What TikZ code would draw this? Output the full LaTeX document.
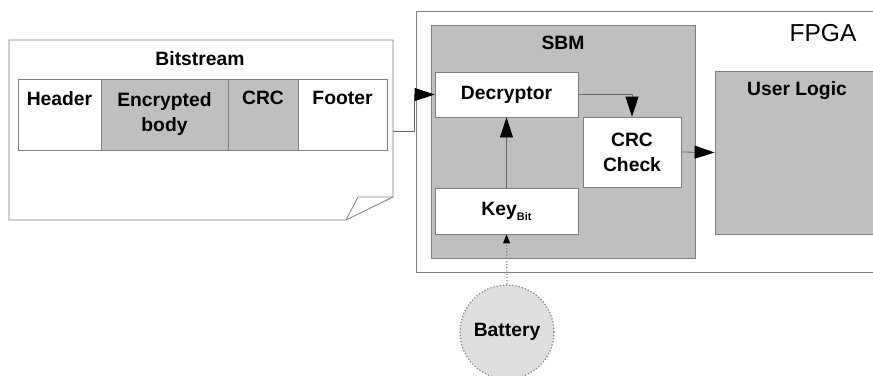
\documentclass[tikz,border=0pt]{standalone}
\usepackage{fontspec}
\setmainfont{Liberation Sans}
\usetikzlibrary{arrows.meta}
\definecolor{boxgray}{gray}{0.75}
\definecolor{linegray}{gray}{0.5}
\definecolor{battgray}{gray}{0.87}

\begin{document}
\begin{tikzpicture}[x=1pt,y=-1pt,line width=0.8pt,
    every node/.style={font=\fontsize{19.3}{25}\selectfont\bfseries},
    block/.style={draw=linegray,fill=white,inner sep=0pt,align=center},
    grayblock/.style={block,fill=boxgray},
    link/.style={draw=black!60,-{Triangle[length=20pt,width=13pt,black]}},
    battlink/.style={draw=gray,dotted,line width=1.2pt,-{Triangle[length=9pt,width=7pt,black]}}]
    \path[use as bounding box,clip] (0,0) rectangle (873,375);

    % Bitstream file
    \draw[linegray,fill=white] (9,40) -- (393,40) -- (393,197) -- (346,220) -- (9,220) -- cycle;
    \draw[linegray] (346,220) -- (358,197) -- (393,197);
    \coordinate (docout) at (393,131);
    \node (bit) at (200,59) {Bitstream};
    \node[block,minimum width=83pt,minimum height=71pt] (header) at (59.5,114.5) {Header\\ \strut};
    \node[grayblock,minimum width=127pt,minimum height=71pt] (body) at (164.5,114.5) {Encrypted\\ body};
    \node[grayblock,minimum width=70pt,minimum height=71pt] (crcfield) at (263,114.5) {CRC\\ \strut};
    \node[block,minimum width=89pt,minimum height=71pt] (footer) at (342.5,114.5) {Footer\\ \strut};

    % FPGA
    \node[block,minimum width=464pt,minimum height=261pt] (fpga) at (648,141.5) {};
    \node[font=\fontsize{24.5}{28}\selectfont] (fpgalabel) at (823,33) {FPGA};

    % SBM
    \node[grayblock,minimum width=264pt,minimum height=233pt] (sbm) at (563,141.5) {};
    \node (sbmlabel) at (563,43) {SBM};
    \node[block,minimum width=143pt,minimum height=45pt] (dec) at (506.5,94.5) {Decryptor};
    \node[block,minimum width=98pt,minimum height=70pt] (crc) at (632,152) {CRC\\ Check};
    \node[block,minimum width=143pt,minimum height=46pt] (key) at (506.5,211) {Key\raisebox{-5pt}{\fontsize{11}{12}\selectfont Bit}};

    % User logic
    \node[grayblock,minimum width=165pt,minimum height=163pt] (user) at (797.5,152.5) {};
    \node (userlabel) at (797,91) {User Logic};

    % Battery
    \node[circle,draw=gray,dotted,line width=1.2pt,fill=battgray,minimum size=94pt,inner sep=0pt] (batt) at (507,332) {Battery};

    % Connections
    \draw[link] (docout) -- ++(21,0) |- (dec.west);
    \draw[link] (dec.east) -| (crc.north);
    \draw[link] (key.north) -- (dec.south);
    \draw[link] (crc.east) -- (user.west);
    \draw[battlink] (batt.north) -- (key.south);
\end{tikzpicture}
\end{document}
